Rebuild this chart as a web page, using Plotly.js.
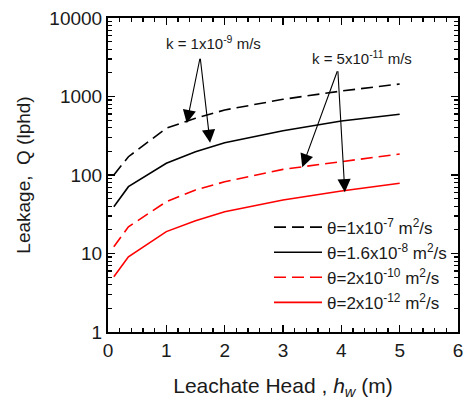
<!DOCTYPE html>
<html>
<head>
<meta charset="utf-8">
<script src="https://cdn.plot.ly/plotly-3.0.1.min.js"></script>
<style>html,body{margin:0;padding:0;background:#fff;}#chart{width:464px;height:400px;}</style>
</head>
<body>
<div id="chart"></div>
<script>
// Leachate head (m)
const headM = [0.1, 0.35, 1, 1.5, 2, 3, 4, 5];
// Leakage Q (lphd) for each transmissivity
const qTheta1e7   = [100, 171, 394, 527, 673, 921, 1175, 1443];
const qTheta16e8  = [39.5, 71, 141, 198, 258, 367, 488, 593];
const qTheta2e10  = [12.2, 21.9, 45.7, 64.4, 82, 118, 148, 185];
const qTheta2e12  = [5.07, 9.1, 19, 26.2, 34, 48, 62.5, 78.4];
const seriesNames = [
  "θ=1x10<sup>-7</sup> m<sup>2</sup>/s",
  "θ=1.6x10<sup>-8</sup> m<sup>2</sup>/s",
  "θ=2x10<sup>-10</sup> m<sup>2</sup>/s",
  "θ=2x10<sup>-12</sup> m<sup>2</sup>/s"
];
const yTickVals = [1, 10, 100, 1000, 10000];
const yTickText = ["1", "10", "100", "1000", "10000"];
const xTickVals = [0, 1, 2, 3, 4, 5, 6];
const kLabels = ["k = 1x10<sup>-9</sup> m/s", "k = 5x10<sup>-11</sup> m/s"];

const font = "Liberation Sans, Arial, sans-serif";
const txt = "#1a1a1a";
const dash = "12px,6px";
const series = [qTheta1e7, qTheta16e8, qTheta2e10, qTheta2e12];
const colors = ["#000000", "#000000", "#ff0000", "#ff0000"];
const dashes = [dash, "solid", dash, "solid"];
const traces = series.map((q, i) => ({
  x: headM, y: q, type: "scatter", mode: "lines", name: seriesNames[i],
  line: {color: colors[i], width: 1.6, dash: dashes[i]}
}));

// annotation anchors (x in m, y in log10 units)
const kTextPos = [[1.8, 3.69], [4.35, 3.50]];
const arrowTails = [[1.58, 3.50], [3.94, 3.34]];
const arrowHeads = [[[1.35, 2.66], [1.75, 2.41]], [[3.33, 2.10], [4.06, 1.78]]];

const annotations = [];
kLabels.forEach((t, i) => {
  annotations.push({x: kTextPos[i][0], y: kTextPos[i][1], xref: "x", yref: "y", text: t,
    showarrow: false, font: {family: font, size: 15, color: txt}});
  arrowHeads[i].forEach(h => {
    annotations.push({x: h[0], y: h[1], xref: "x", yref: "y", axref: "x", ayref: "y",
      ax: arrowTails[i][0], ay: arrowTails[i][1], text: "", showarrow: true,
      arrowhead: 2, arrowsize: 2.4, arrowwidth: 1.1, arrowcolor: "#000", standoff: 0});
  });
});

const axisCommon = {
  showline: true, linecolor: "#000", linewidth: 2, mirror: "allticks",
  ticks: "inside", ticklen: 7, tickwidth: 1.5, tickcolor: "#000",
  showgrid: false, zeroline: false,
  tickfont: {family: font, size: 19, color: txt}
};

const layout = {
  width: 464, height: 400,
  margin: {l: 108, r: 6, t: 18, b: 68},
  paper_bgcolor: "#fff", plot_bgcolor: "#fff",
  font: {family: font, color: txt},
  showlegend: true,
  legend: {x: 0.46, y: 0.39, xanchor: "left", yanchor: "top",
    bgcolor: "rgba(0,0,0,0)", font: {family: font, size: 17, color: txt},
    itemwidth: 48, tracegroupgap: 0},
  xaxis: Object.assign({}, axisCommon, {
    range: [0, 6], tickvals: xTickVals,
    minor: {dtick: 0.2, ticks: "inside", ticklen: 4, tickwidth: 1.2, tickcolor: "#000"},
    title: {text: "Leachate Head , <i>h<sub>w</sub></i> (m)", font: {family: font, size: 21, color: txt}, standoff: 20}
  }),
  yaxis: Object.assign({}, axisCommon, {
    type: "log", range: [0, 4], tickvals: yTickVals, ticktext: yTickText,
    minor: {dtick: "D1", ticks: "inside", ticklen: 4, tickwidth: 1.2, tickcolor: "#000"},
    title: {text: "Leakage,  Q (lphd)", font: {family: font, size: 19, color: txt}, standoff: 14}
  }),
  annotations: annotations
};

Plotly.newPlot("chart", traces, layout, {displayModeBar: false, staticPlot: true});
</script>
</body>
</html>
